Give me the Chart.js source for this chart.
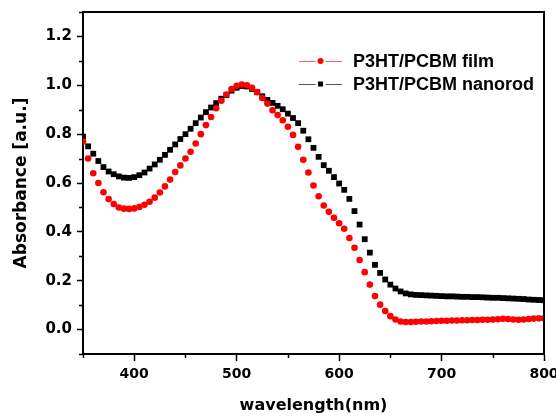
<!DOCTYPE html>
<html>
<head>
<meta charset="utf-8">
<script src="https://cdn.jsdelivr.net/npm/chart.js@4/dist/chart.umd.min.js"></script>
<style>
  html, body { margin: 0; padding: 0; background: #fff; }
  #wrap { width: 556px; height: 416px; position: relative; }
</style>
</head>
<body>
<div id="wrap"><canvas id="c" width="556" height="416"></canvas></div>
<script>
// ---- data ----
const wavelengths = [];
for (let w = 350; w <= 800; w += 5) wavelengths.push(w);

const filmValues = [
  0.770, 0.700, 0.640, 0.600, 0.562, 0.534, 0.514, 0.500, 0.495, 0.494,
  0.496, 0.502, 0.511, 0.523, 0.540, 0.561, 0.586, 0.614, 0.645, 0.672,
  0.700, 0.728, 0.762, 0.800, 0.837, 0.870, 0.906, 0.937, 0.962, 0.985,
  0.998, 1.003, 1.000, 0.990, 0.972, 0.948, 0.925, 0.898, 0.878, 0.857,
  0.830, 0.797, 0.748, 0.695, 0.643, 0.590, 0.546, 0.508, 0.482, 0.458,
  0.435, 0.413, 0.375, 0.335, 0.285, 0.235, 0.184, 0.137, 0.102, 0.076,
  0.055, 0.041, 0.033, 0.031, 0.031, 0.032, 0.033, 0.033, 0.034, 0.035,
  0.036, 0.036, 0.037, 0.037, 0.038, 0.038, 0.039, 0.039, 0.040, 0.040,
  0.041, 0.042, 0.044, 0.043, 0.041, 0.040, 0.041, 0.043, 0.045, 0.046,
  0.046
];

const nanorodValues = [
  0.790, 0.750, 0.720, 0.690, 0.665, 0.647, 0.636, 0.627, 0.622, 0.621,
  0.624, 0.632, 0.643, 0.659, 0.676, 0.695, 0.715, 0.736, 0.758, 0.780,
  0.800, 0.822, 0.845, 0.868, 0.890, 0.909, 0.927, 0.945, 0.960, 0.978,
  0.990, 0.997, 0.995, 0.985, 0.972, 0.955, 0.940, 0.928, 0.916, 0.902,
  0.884, 0.866, 0.845, 0.814, 0.779, 0.744, 0.707, 0.673, 0.650, 0.624,
  0.598, 0.572, 0.535, 0.485, 0.430, 0.370, 0.315, 0.265, 0.232, 0.205,
  0.184, 0.168, 0.156, 0.148, 0.144, 0.142, 0.141, 0.140, 0.139, 0.138,
  0.137, 0.136, 0.136, 0.135, 0.134, 0.134, 0.133, 0.133, 0.132, 0.131,
  0.130, 0.130, 0.129, 0.128, 0.127, 0.126, 0.125, 0.123, 0.122, 0.121,
  0.120
];

const seriesNames = ['P3HT/PCBM film', 'P3HT/PCBM nanorod'];
const xTickLabels = ['400', '500', '600', '700', '800'];
const yTickLabels = ['0.0', '0.2', '0.4', '0.6', '0.8', '1.0', '1.2'];
const xTitle = 'wavelength(nm)';
const yTitle = 'Absorbance [a.u.]';

// ---- helpers ----
const toPoints = vals => wavelengths.map((w, i) => ({ x: w, y: vals[i] }));
const xLabelOf = v => { const s = String(Math.round(v)); return xTickLabels.includes(s) ? s : ''; };
const yLabelOf = v => { const s = (Math.round(v * 10) / 10).toFixed(1); return yTickLabels.includes(s) ? s : ''; };

const TICK_FONT = 'DejaVu Sans';

// frame, minor ticks, legend
const extras = {
  id: 'extras',
  afterDraw(chart) {
    const { ctx, chartArea: a, scales: { x, y } } = chart;
    ctx.save();
    ctx.strokeStyle = '#000';
    ctx.lineWidth = 2;
    ctx.beginPath();
    ctx.moveTo(a.left, a.top);
    ctx.lineTo(a.right, a.top);
    ctx.lineTo(a.right, a.bottom);
    ctx.stroke();

    // minor ticks
    ctx.lineWidth = 1.5;
    ctx.beginPath();
    x.ticks.forEach(t => {
      if (xLabelOf(t.value) === '') {
        const px = Math.round(x.getPixelForValue(t.value)) + 0.5;
        ctx.moveTo(px, a.bottom); ctx.lineTo(px, a.bottom + 4);
      }
    });
    y.ticks.forEach(t => {
      if (yLabelOf(t.value) === '') {
        const py = Math.round(y.getPixelForValue(t.value)) + 0.5;
        ctx.moveTo(a.left, py); ctx.lineTo(a.left - 4, py);
      }
    });
    ctx.stroke();

    // legend (line - marker - line, label)
    const rows = [61, 84];
    const x0 = a.left + 216, x1 = a.left + 259, xm = (x0 + x1) / 2;
    chart.data.datasets.forEach((ds, i) => {
      const yy = rows[i];
      ctx.lineWidth = 1;
      ctx.strokeStyle = ds.legendLine;
      ctx.beginPath();
      ctx.moveTo(x0, yy + 0.5); ctx.lineTo(xm - 5, yy + 0.5);
      ctx.moveTo(xm + 5, yy + 0.5); ctx.lineTo(x1, yy + 0.5);
      ctx.stroke();
      ctx.fillStyle = ds.pointBackgroundColor;
      if (ds.pointStyle === 'rect') {
        ctx.fillRect(xm - 2.5, yy - 2.5, 5, 5);
      } else {
        ctx.beginPath(); ctx.arc(xm, yy, 3, 0, Math.PI * 2); ctx.fill();
      }
      ctx.fillStyle = '#000';
      ctx.font = 'bold 18px "Liberation Sans", Arial, sans-serif';
      ctx.textBaseline = 'middle';
      ctx.textAlign = 'left';
      ctx.fillText(ds.label, x1 + 11, yy + 1);
    });
    ctx.restore();
  }
};

Chart.defaults.color = '#000';
Chart.defaults.font.family = TICK_FONT;

new Chart(document.getElementById('c'), {
  type: 'scatter',
  data: {
    datasets: [
      {
        label: seriesNames[0],
        data: toPoints(filmValues),
        pointStyle: 'circle',
        pointRadius: 3.3,
        pointBackgroundColor: '#ff0000',
        pointBorderColor: '#ff0000',
        pointBorderWidth: 0,
        borderColor: '#ff0000',
        legendLine: '#ff6060',
        showLine: false
      },
      {
        label: seriesNames[1],
        data: toPoints(nanorodValues),
        pointStyle: 'rect',
        pointRadius: 4.1,
        pointBackgroundColor: '#000000',
        pointBorderColor: '#000000',
        pointBorderWidth: 0,
        borderColor: '#000000',
        legendLine: '#555555',
        showLine: false
      }
    ]
  },
  options: {
    responsive: false,
    animation: false,
    devicePixelRatio: 1,
    layout: { padding: { left: 0, top: 12, right: 12, bottom: 0 } },
    plugins: {
      legend: { display: false },
      tooltip: { enabled: false },
      title: { display: false }
    },
    scales: {
      x: {
        type: 'linear',
        min: 350, max: 800,
        border: { display: true, color: '#000', width: 2 },
        grid: {
          display: true, drawOnChartArea: false, drawTicks: true,
          tickLength: 7, tickWidth: 1.5,
          tickColor: c => (xLabelOf(c.tick.value) ? '#000' : 'rgba(0,0,0,0)')
        },
        ticks: {
          stepSize: 50, autoSkip: false, maxRotation: 0,
          padding: 5,
          font: { family: TICK_FONT, size: 14, weight: 'bold' },
          callback: v => xLabelOf(v)
        },
        title: {
          display: true, text: xTitle,
          font: { family: TICK_FONT, size: 16, weight: 'bold' },
          padding: { top: 0, bottom: 1 }
        },
        afterFit: s => { s.height = 62; s.paddingLeft = 0; s.paddingRight = 0; }
      },
      y: {
        type: 'linear',
        min: -0.1, max: 1.3,
        border: { display: true, color: '#000', width: 2 },
        grid: {
          display: true, drawOnChartArea: false, drawTicks: true,
          tickLength: 6, tickWidth: 1.5,
          tickColor: c => (yLabelOf(c.tick.value) ? '#000' : 'rgba(0,0,0,0)')
        },
        ticks: {
          stepSize: 0.1, autoSkip: false,
          padding: 5,
          font: { family: TICK_FONT, size: 15, weight: 'bold' },
          callback: v => yLabelOf(v)
        },
        title: {
          display: true, text: yTitle,
          font: { family: TICK_FONT, size: 17, weight: 'bold' },
          padding: { top: 11, bottom: 0 }
        },
        afterFit: s => { s.width = 83; s.paddingTop = 0; s.paddingBottom = 0; }
      }
    }
  },
  plugins: [extras]
});
</script>
</body>
</html>
